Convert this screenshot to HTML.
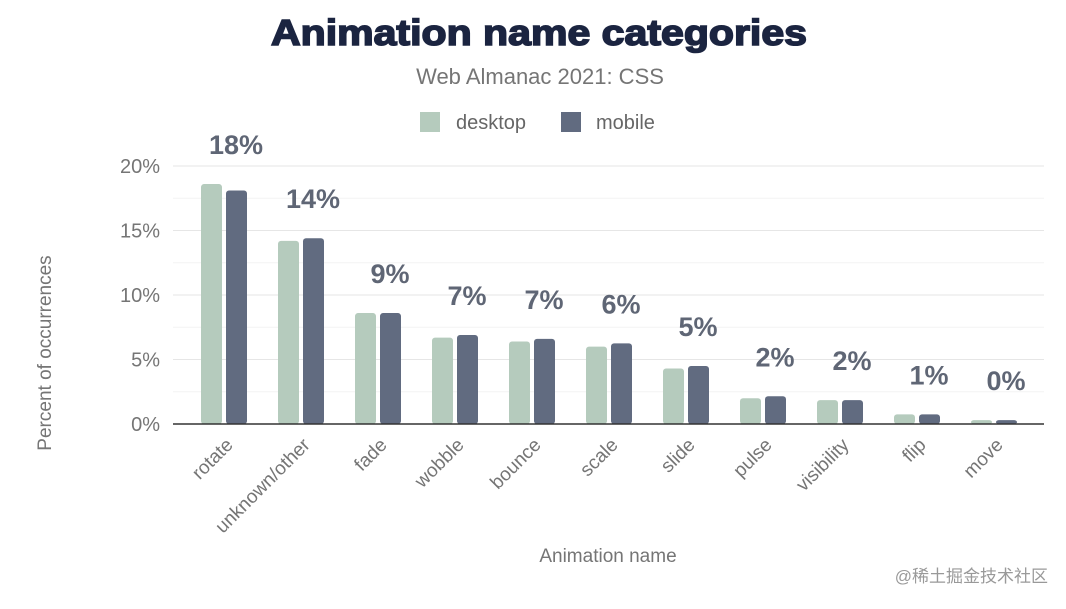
<!DOCTYPE html>
<html><head><meta charset="utf-8"><style>
body{margin:0;background:#fff;font-family:"Liberation Sans",sans-serif;}
</style></head><body>
<svg width="1066" height="604" xmlns="http://www.w3.org/2000/svg" id="chart">
<text x="539" y="45" text-anchor="middle" font-size="36" font-weight="bold" fill="#1b2440" stroke="#1b2440" stroke-width="1.6" textLength="536" lengthAdjust="spacingAndGlyphs">Animation name categories</text>
<text x="540" y="84" text-anchor="middle" font-size="22" fill="#757575">Web Almanac 2021: CSS</text>
<g>
<rect x="420" y="112" width="20" height="20" fill="#b5cbbd"/>
<text x="456" y="129" font-size="20" fill="#666">desktop</text>
<rect x="561" y="112" width="20" height="20" fill="#616b80"/>
<text x="596" y="129" font-size="20" fill="#666">mobile</text>
</g>
<text transform="translate(51,353) rotate(-90)" text-anchor="middle" font-size="19" fill="#757575">Percent of occurrences</text>
<text x="608" y="562" text-anchor="middle" font-size="19" fill="#757575">Animation name</text>
<g id="grid"></g><g id="bars"></g><g id="labels"></g>
<text x="1048" y="582" text-anchor="end" font-size="17" fill="#999" font-family="'Liberation Sans','Noto Sans CJK SC',sans-serif">@稀土掘金技术社区</text>
</svg>
<script>
const categories=["rotate","unknown/other","fade","wobble","bounce","scale","slide","pulse","visibility","flip","move"];
const desktop=[18.6,14.2,8.6,6.7,6.4,6.0,4.3,2.0,1.85,0.75,0.3];
const mobile=[18.1,14.4,8.6,6.9,6.6,6.25,4.5,2.15,1.85,0.75,0.3];
const valueLabels=["18%","14%","9%","7%","7%","6%","5%","2%","2%","1%","0%"];
const yTicks=[0,5,10,15,20];
const NS="http://www.w3.org/2000/svg";
const y0=424,pxPer=(424-166)/20,left=185.5,band=77;
const y=v=>y0-v*pxPer, xc=i=>left+band*(i+0.5);
function mk(t,a,p){const e=document.createElementNS(NS,t);for(const k in a)e.setAttribute(k,a[k]);document.getElementById(p).appendChild(e);return e;}
for(let v=2.5;v<=20;v+=2.5){const g=mk('line',{x1:173,x2:1044,y1:y(v),y2:y(v),stroke:v%5===0?'#e6e6e6':'#f3f3f3','stroke-width':1},'grid');

}
yTicks.forEach(v=>{const t=mk('text',{x:160,y:y(v)+7,'text-anchor':'end','font-size':20,fill:'#757575'},'grid');t.textContent=v+'%';

});
categories.forEach((c,i)=>{
const cx=xc(i);
[[desktop[i],'#b5cbbd',cx-23,'desktop'],[mobile[i],'#616b80',cx+2,'mobile']].forEach(([v,col,x,s])=>{
const r=mk('rect',{x:x,y:y(v),width:21,height:Math.max(y0-y(v),1),fill:col,rx:3},'bars');

});
const top=Math.min(y(desktop[i]),y(mobile[i]));
const l=mk('text',{x:cx+12,y:top-30,'text-anchor':'middle','font-size':27,'font-weight':'bold',fill:'#5f6675'},'labels');l.textContent=valueLabels[i];


const t=mk('text',{'text-anchor':'end','font-size':19,fill:'#757575',transform:`translate(${cx+10},${446}) rotate(-45)`},'labels');t.textContent=c;


});
const ax=mk('line',{x1:173,x2:1044,y1:y0,y2:y0,stroke:'#333','stroke-width':1.5},'bars');


</script>
</body></html>
